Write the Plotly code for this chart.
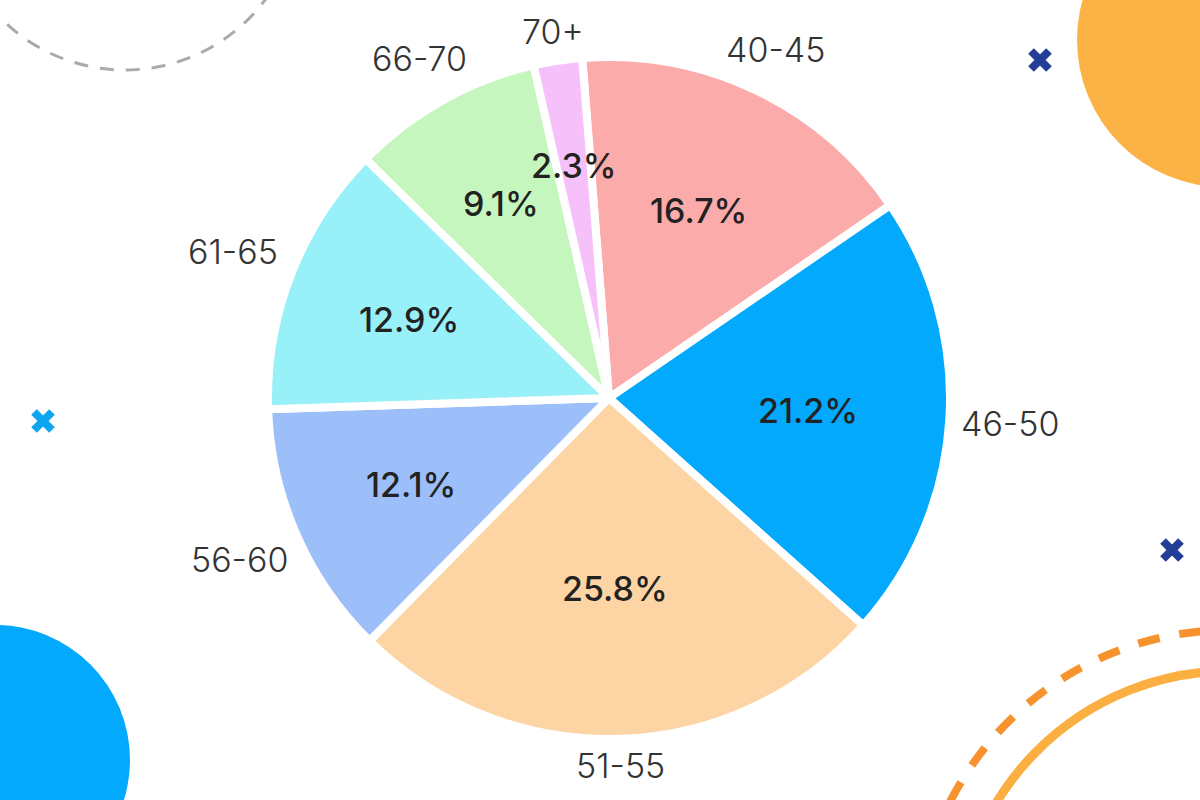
import math
import plotly.graph_objects as go

# ---- data ----
labels = ["40-45", "46-50", "51-55", "56-60", "61-65", "66-70", "70+"]
values = [16.7, 21.2, 25.8, 12.1, 12.9, 9.1, 2.3]
colors = ["#FCABAB", "#03A9FC", "#FDD5A5", "#9DBFF9", "#98F0F9", "#C5F6BD", "#F6C0FA"]

# ---- layout constants ----
W, H = 1200, 800
CX, CY = 609, 398          # pie centre (px)
R = 341                    # pie radius incl. border (px)
BORDER = 8
ROT = -4.5
FONT = "Inter, Lato, 'Open Sans', sans-serif"
FS = 34


def px(x):
    return x / W


def py(y):
    return 1 - y / H


fig = go.Figure(go.Pie(
    labels=labels, values=values, sort=False, direction="clockwise",
    rotation=ROT,
    marker=dict(colors=colors, line=dict(color="white", width=BORDER)),
    textinfo="none", hoverinfo="label+percent", showlegend=False,
    domain=dict(x=[px(CX - R), px(CX + R)], y=[py(CY + R), py(CY - R)]),
))

# ---- text labels placed from data angles ----
annotations = []
total = sum(values)
cum = 0.0
Rv = R - BORDER / 2
for lab, v in zip(labels, values):
    share = 100 * v / total
    mid = math.radians(ROT + 360 * (cum + v / 2) / total)
    cum += v
    s, c = math.sin(mid), math.cos(mid)
    # percentage inside the slice (smaller slices -> further out)
    d = Rv * (0.71 - 0.0056 * share)
    annotations.append(dict(
        x=px(CX + d * s), y=py(CY - d * c), xref="paper", yref="paper",
        text=f"{v:.1f}%", showarrow=False, xanchor="center", yanchor="middle",
        font=dict(family=FONT, size=FS, color="#222222", weight=500)))
    # category label outside
    w = 0.6 * FS * len(lab)
    h = FS * 0.95
    d2 = Rv + 13 + (w / 2) * abs(s) + (h / 2) * abs(c)
    annotations.append(dict(
        x=px(CX + d2 * s), y=py(CY - d2 * c), xref="paper", yref="paper",
        text=lab, showarrow=False, xanchor="center", yanchor="middle",
        font=dict(family=FONT, size=FS, color="#333333", weight=300)))

# ---- decorative shapes ----
shapes = []


def circle(cx, cy, r, **kw):
    d = dict(type="circle", xref="paper", yref="paper",
             x0=px(cx - r), x1=px(cx + r), y0=py(cy + r), y1=py(cy - r), layer="below")
    d.update(kw)
    return d


shapes.append(circle(125, -105, 175, line=dict(color="#AAAAAA", width=3, dash="14px,12px")))
shapes.append(circle(1224, 40, 147, fillcolor="#FDB245", line=dict(width=0)))
shapes.append(circle(-5, 760, 135, fillcolor="#03A9FC", line=dict(width=0)))
shapes.append(circle(1230, 944, 314, line=dict(color="#F7932F", width=8, dash="22px,20px")))
shapes.append(circle(1230, 944, 273, line=dict(color="#FBAF41", width=9)))


def cross(cx, cy, color, a=9, lw=8):
    out = []
    for sgn in (1, -1):
        out.append(dict(type="line", xref="paper", yref="paper",
                        x0=px(cx - a), y0=py(cy - sgn * a), x1=px(cx + a), y1=py(cy + sgn * a),
                        line=dict(color=color, width=lw), layer="below"))
    return out


shapes += cross(1040, 60, "#233E97")
shapes += cross(1172, 550, "#233E97")
shapes += cross(43, 421, "#0EA5F0")

fig.update_layout(
    width=W, height=H, margin=dict(l=0, r=0, t=0, b=0, pad=0),
    paper_bgcolor="white", plot_bgcolor="white",
    annotations=annotations, shapes=shapes, showlegend=False,
)

fig.write_html("out.html")
